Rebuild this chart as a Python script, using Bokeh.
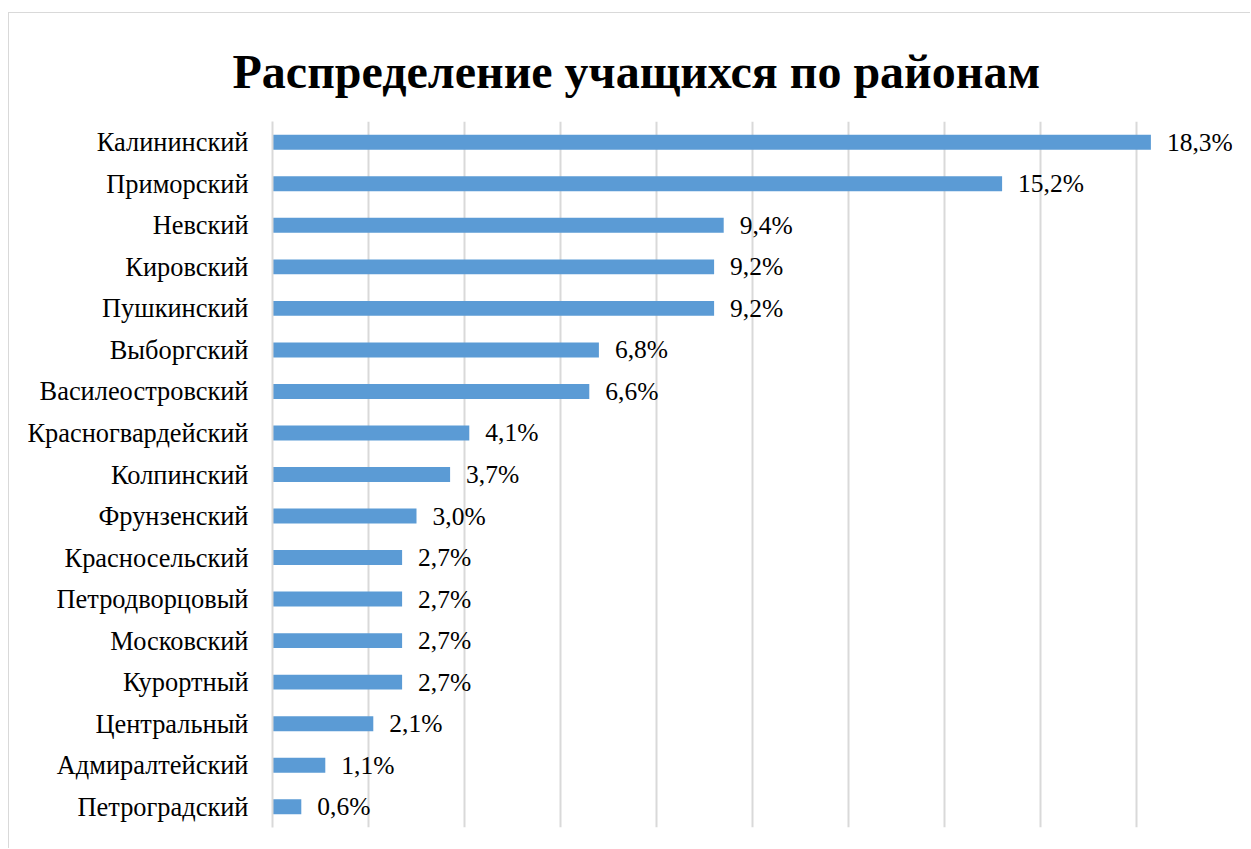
from bokeh.plotting import figure
from bokeh.models import ColumnDataSource, FactorRange, Range1d, Title, SingleIntervalTicker
from bokeh.core.properties import value
from bokeh.embed import file_html
from bokeh.resources import INLINE

categories = ["Калининский", "Приморский", "Невский", "Кировский", "Пушкинский",
              "Выборгский", "Василеостровский", "Красногвардейский", "Колпинский",
              "Фрунзенский", "Красносельский", "Петродворцовый", "Московский",
              "Курортный", "Центральный", "Адмиралтейский", "Петроградский"]
values = [18.3, 15.2, 9.4, 9.2, 9.2, 6.8, 6.6, 4.1, 3.7, 3.0, 2.7, 2.7, 2.7, 2.7, 2.1, 1.1, 0.6]
labels = [f"{v:.1f}".replace(".", ",") + "%" for v in values]
title_text = "Распределение учащихся по районам"

FONT = "'Liberation Serif', 'Times New Roman', serif"
GRID = "#d9d9d9"

src = ColumnDataSource(dict(cat=categories, val=values, lab=labels))

p = figure(width=1242, height=836, output_backend="svg", toolbar_location=None,
           y_range=FactorRange(*reversed(categories), range_padding=0),
           x_range=Range1d(0, 20),
           min_border_left=263, min_border_right=19, min_border_top=108, min_border_bottom=22)
p.styles = {"margin-left": "8px", "margin-top": "12px",
            "border-left": "1px solid #d9d9d9", "border-top": "1px solid #d9d9d9"}

p.title = Title(text=title_text, text_font=FONT, text_font_size="48px",
                text_font_style="bold", text_color="black", align="left", offset=-40)
p.title.standoff = 48

p.hbar(y="cat", right="val", left=0, height=0.36, source=src,
       fill_color="#5B9BD5", line_color=None)
p.text(x="val", y="cat", text="lab", source=src, x_offset=16,
       text_font=value(FONT), text_font_size="25.5px", text_baseline="middle",
       text_align="left", text_color="black")

p.outline_line_color = None
p.xaxis.visible = False
p.xaxis.ticker = SingleIntervalTicker(interval=2)
p.xgrid.ticker = SingleIntervalTicker(interval=2)
p.xgrid.grid_line_color = GRID
p.xgrid.grid_line_width = 2
p.ygrid.grid_line_color = None

p.yaxis.axis_line_color = GRID
p.yaxis.axis_line_width = 2
p.yaxis.major_tick_line_color = None
p.yaxis.minor_tick_line_color = None
p.yaxis.major_label_standoff = 18
p.yaxis.major_label_text_font = FONT
p.yaxis.major_label_text_font_size = "26.4px"
p.yaxis.major_label_text_color = "black"

open("out.html", "w").write(file_html(p, INLINE))
